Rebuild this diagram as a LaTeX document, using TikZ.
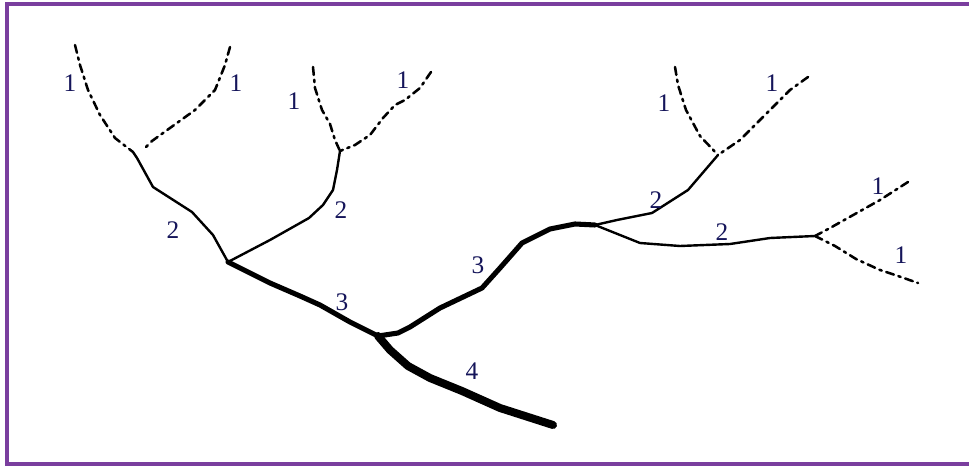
\documentclass[tikz,border=0pt]{standalone}
\usepackage{fontspec}
\setmainfont{Liberation Serif}
\usetikzlibrary{calc}
\definecolor{frm}{HTML}{7A3E9E}
\definecolor{num}{HTML}{15155A}
\tikzset{
  riv/.style={draw=black,line join=round,line cap=round},
  ordone/.style={riv,line width=1.9pt,dash pattern=on 6pt off 3.6pt on 1.8pt off 3.6pt},
  ordtwo/.style={riv,line width=1.8pt},
  ordthree/.style={riv,line width=3.8pt},
  ordfour/.style={riv,line width=6pt},
  lbl/.style={text=num,inner sep=0pt,font=\fontsize{19}{19}\selectfont},
}
\begin{document}
\begin{tikzpicture}[x=0.75pt,y=-0.75pt]
\useasboundingbox (0,0) rectangle (969,466);
\fill[white] (0,0) rectangle (969,466);
% frame
\draw[frm,line width=3pt] (969,4) -- (6.5,4) -- (6.5,463.5) -- (969,463.5);
% junctions
\coordinate (ja) at (133,152);
\coordinate (jb) at (228,262);
\coordinate (jc) at (340,151);
\coordinate (jd) at (378,336);
\coordinate (je) at (595,225);
\coordinate (jf) at (718,155);
\coordinate (jg) at (815,236);
\coordinate (mouth) at (553,425);
% sources
\coordinate (s1) at (75,45);
\coordinate (s2) at (230,47);
\coordinate (s3) at (313,67);
\coordinate (s4) at (431,72);
\coordinate (s5) at (675,67);
\coordinate (s6) at (808,77);
\coordinate (s7) at (908,182);
\coordinate (s8) at (918,283);
% order 1
\draw[ordone] (s1) -- (80,65) -- (88,90) -- (100,115) -- (115,138) -- (ja);
\draw[ordone] (s2) -- (225,65) -- (215,90) -- (195,110) -- (170,128) -- (152,141) -- (143,150);
\draw[ordone] (s3) -- (315,88) -- (322,110) -- (330,124) -- (335,140) -- (jc);
\draw[ordone] (s4) -- (420,88) -- (405,100) -- (395,105) -- (383,118) -- (370,135) -- (355,145) -- (jc);
\draw[ordone] (s5) -- (678,85) -- (686,110) -- (700,136) -- (jf);
\draw[ordone] (s6) -- (790,90) -- (770,110) -- (740,140) -- (jf);
\draw[ordone] (s7) -- (880,200) -- (855,214) -- (830,228) -- (jg);
\draw[ordone] (jg) -- (835,246) -- (856,259) -- (880,270) -- (898,276) -- (s8);
% order 2
\draw[ordtwo] (ja) -- (137,158) -- (153,187) -- (192,212) -- (213,235) -- (jb);
\draw[ordtwo] (jc) -- (337,170) -- (333,190) -- (323,205) -- (309,218) -- (270,240) -- (jb);
\draw[ordtwo] (je) -- (617,220) -- (652,213) -- (688,190) -- (jf);
\draw[ordtwo] (je) -- (640,243) -- (680,246) -- (730,244) -- (770,238) -- (jg);
% order 3
\draw[ordthree] (jb) -- (270,283) -- (300,296) -- (320,305) -- (350,322) -- (jd);
\draw[ordthree] (jd) -- (398,333) -- (410,327) -- (440,308) -- (482,288) -- (500,268) -- (522,243) -- (550,229) -- (575,224) -- (je);
% order 4
\draw[ordfour] (jd) -- (390,350) -- (408,366) -- (430,378) -- (462,391) -- (500,408) -- (mouth);
% labels
\node[lbl] (n1) at (70,83) {1};
\node[lbl] (n2) at (236,83) {1};
\node[lbl] (n3) at (294,101) {1};
\node[lbl] (n4) at (403,80) {1};
\node[lbl] (n5) at (664,103) {1};
\node[lbl] (n6) at (772,83) {1};
\node[lbl] (n7) at (878,186) {1};
\node[lbl] (n8) at (901,255) {1};
\node[lbl] (n9) at (173,230) {2};
\node[lbl] (n10) at (341,210) {2};
\node[lbl] (n11) at (656,200) {2};
\node[lbl] (n12) at (722,232) {2};
\node[lbl] (n13) at (342,302) {3};
\node[lbl] (n14) at (478,265) {3};
\node[lbl] (n15) at (472,371) {4};
\end{tikzpicture}
\end{document}
